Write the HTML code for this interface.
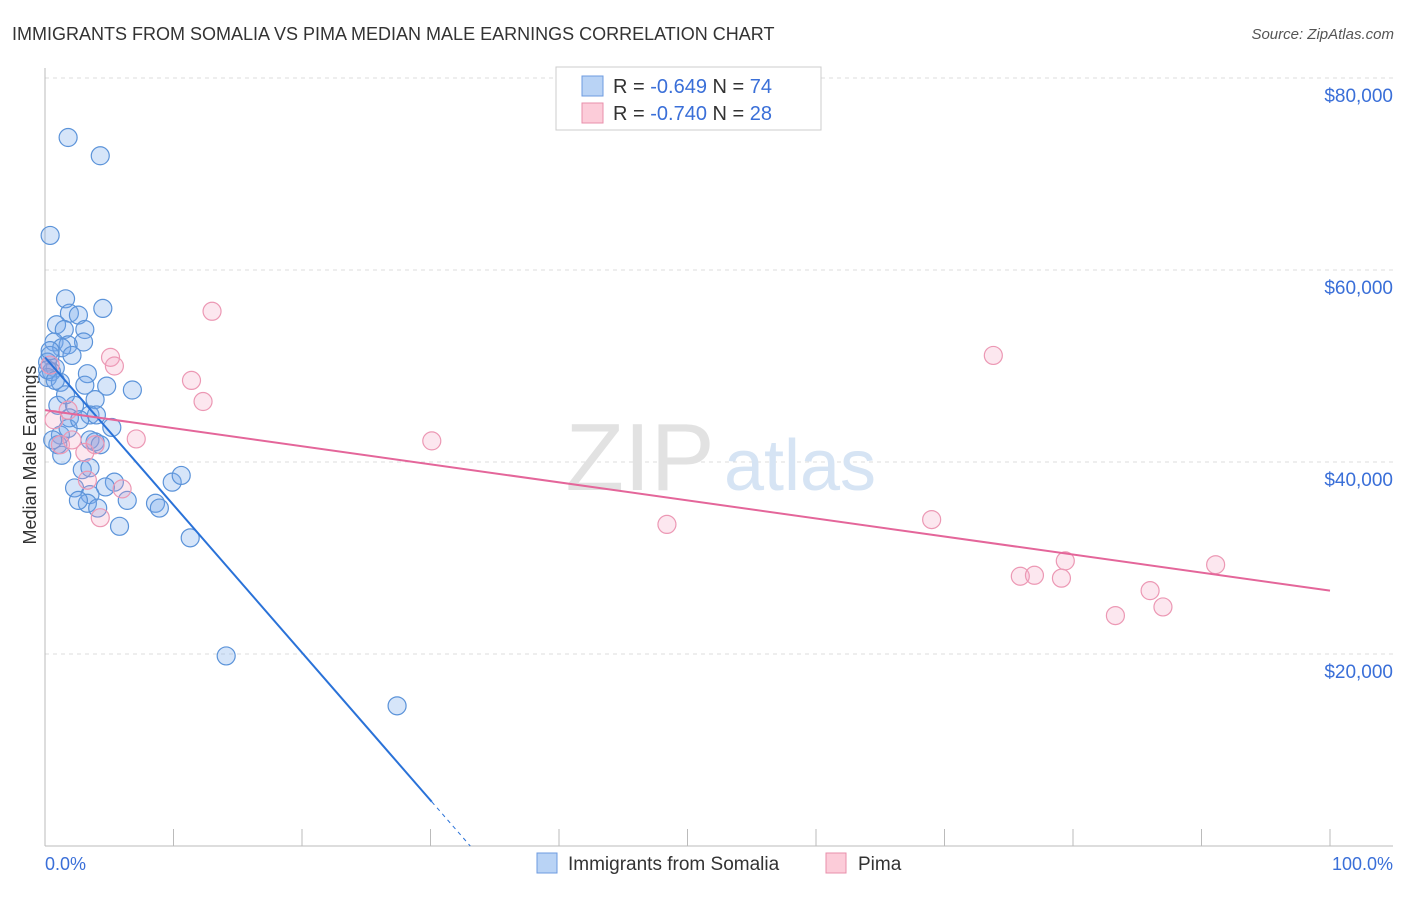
<!DOCTYPE html>
<html><head><meta charset="utf-8"><style>
body{margin:0;background:#fff;font-family:"Liberation Sans",sans-serif;}
svg text{font-family:"Liberation Sans",sans-serif;}
</style></head><body>
<svg width="1406" height="892" viewBox="0 0 1406 892" xmlns="http://www.w3.org/2000/svg">
<text x="12" y="40" font-size="18" fill="#333">IMMIGRANTS FROM SOMALIA VS PIMA MEDIAN MALE EARNINGS CORRELATION CHART</text>
<text x="1394" y="39" font-size="15" fill="#555" font-style="italic" text-anchor="end">Source: ZipAtlas.com</text>
<g id="grid"></g>
<text x="640" y="490" font-size="96" fill="#e2e2e2" font-family="Liberation Serif" text-anchor="middle">ZIP</text>
<text x="800" y="490" font-size="72" fill="#d6e4f4" text-anchor="middle">atlas</text>
<line x1="45" y1="68" x2="45" y2="846" stroke="#bbb"/>
<line x1="45" y1="846" x2="1393" y2="846" stroke="#bbb"/>
<g id="xticks"></g>
<text x="36" y="455" font-size="18" fill="#333" text-anchor="middle" transform="rotate(-90 36 455)">Median Male Earnings</text>
<text x="45" y="870" font-size="18" fill="#3a6fd8">0.0%</text>
<text x="1393" y="870" font-size="18" fill="#3a6fd8" text-anchor="end">100.0%</text>
<g id="blue"></g>
<g id="pink"></g>
<g id="trends"></g>
<g>
<rect x="556" y="67" width="265" height="63" fill="#fff" stroke="#ccc"/>
<rect x="582" y="76" width="21" height="20" fill="#b9d3f5" stroke="#6d9be0"/>
<rect x="582" y="103" width="21" height="20" fill="#fcccd9" stroke="#e88fab"/>
<text x="613" y="93" font-size="20" fill="#333">R = <tspan fill="#3a6fd8">-0.649</tspan>   N = <tspan fill="#3a6fd8">74</tspan></text>
<text x="613" y="120" font-size="20" fill="#333">R = <tspan fill="#3a6fd8">-0.740</tspan>   N = <tspan fill="#3a6fd8">28</tspan></text>
</g>
<g>
<rect x="537" y="853" width="20" height="20" fill="#b9d3f5" stroke="#6d9be0"/>
<text x="568" y="870" font-size="19" fill="#333">Immigrants from Somalia</text>
<rect x="826" y="853" width="20" height="20" fill="#fcccd9" stroke="#e88fab"/>
<text x="858" y="870" font-size="19" fill="#333">Pima</text>
</g>
</svg>
<script>
const yTicks=[20000,40000,60000,80000];
const yTickLabels=["$20,000","$40,000","$60,000","$80,000"];
const xTickValues=[0,10,20,30,40,50,60,70,80,90,100];
const blueX=[1.8,4.3,0.4,1.6,4.5,1.9,2.6,0.9,1.5,3.1,3.0,0.7,1.8,1.3,2.1,0.4,0.2,0.8,0.5,0.2,1.2,3.3,4.8,6.8,3.1,3.9,1.0,2.3,1.9,3.5,4.0,5.2,1.2,1.8,3.9,3.5,1.3,1.0,2.9,3.5,5.4,2.3,4.7,3.5,3.3,6.4,4.1,8.6,8.9,9.9,10.6,5.8,11.3,14.1,27.4,0.4,0.2,0.8,1.6,2.7,4.3,0.6,2.6];
const blueY=[73800,71900,63600,57000,56000,55500,55300,54300,53800,53800,52500,52500,52200,51900,51100,51100,50400,49800,49400,48800,48300,49200,47900,47500,48000,46500,45900,45900,44600,44900,44900,43600,42800,43500,42100,42300,40700,41800,39200,39400,37900,37300,37400,36600,35700,36000,35200,35700,35200,37900,38600,33300,32100,19800,14600,51600,49600,48500,47000,44400,41800,42300,36000];
const pinkX=[13.0,5.1,5.4,11.4,12.3,7.1,30.1,73.8,48.4,69.0,75.9,77.0,79.1,79.4,91.1,83.3,86.0,87.0,0.7,1.8,3.1,4.3,6.0,1.2,3.3,0.4,2.1,3.9];
const pinkY=[55700,50900,50000,48500,46300,42400,42200,51100,33500,34000,28100,28200,27900,29700,29300,24000,26600,24900,44400,45400,41000,34200,37200,41800,38100,50100,42300,41800];
const blueTrend=[50900,-1538]; // intercept, slope per %
const pinkTrend=[45400,-188];
const NS="http://www.w3.org/2000/svg";
const sx=v=>45+v*12.85, sy=v=>846-v/20000*192;
function mk(t,a,p){const e=document.createElementNS(NS,t);for(const k in a)e.setAttribute(k,a[k]);p.appendChild(e);return e;}
const grid=document.getElementById('grid');
yTicks.forEach((v,i)=>{
 const l=mk('line',{x1:45,x2:1393,y1:sy(v),y2:sy(v),stroke:'#ddd','stroke-dasharray':'4,4'},grid);
 
 
 const t=mk('text',{x:1393,y:sy(v)+24,'font-size':19,fill:'#3a6fd8','text-anchor':'end'},grid);
 t.textContent=yTickLabels[i];
 
 
});
const xt=document.getElementById('xticks');
xTickValues.forEach(v=>{
 const l=mk('line',{x1:sx(v),x2:sx(v),y1:829,y2:846,stroke:'#bbb'},xt);
 
 
});
const bg=document.getElementById('blue');
blueX.forEach((x,i)=>{
 const c=mk('circle',{cx:sx(x),cy:sy(blueY[i]),r:9,fill:'rgba(120,170,235,0.3)',stroke:'#5b93d9','stroke-width':1.2},bg);
 
 
});
const pg=document.getElementById('pink');
pinkX.forEach((x,i)=>{
 const c=mk('circle',{cx:sx(x),cy:sy(pinkY[i]),r:9,fill:'rgba(245,160,190,0.25)',stroke:'#ec98b4','stroke-width':1.2},pg);
 
 
});
const tg=document.getElementById('trends');
const bEnd=30.1, bZero=-blueTrend[0]/blueTrend[1];
let l1=mk('line',{x1:sx(0),y1:sy(blueTrend[0]),x2:sx(bEnd),y2:sy(blueTrend[0]+blueTrend[1]*bEnd),stroke:'#2a72d8','stroke-width':2},tg);


let l2=mk('line',{x1:sx(bEnd),y1:sy(blueTrend[0]+blueTrend[1]*bEnd),x2:sx(bZero),y2:sy(0),stroke:'#2a72d8','stroke-width':1,'stroke-dasharray':'4,4'},tg);


let l3=mk('line',{x1:sx(0),y1:sy(pinkTrend[0]),x2:sx(100),y2:sy(pinkTrend[0]+pinkTrend[1]*100),stroke:'#e4669a','stroke-width':2},tg);


</script>
</body></html>
